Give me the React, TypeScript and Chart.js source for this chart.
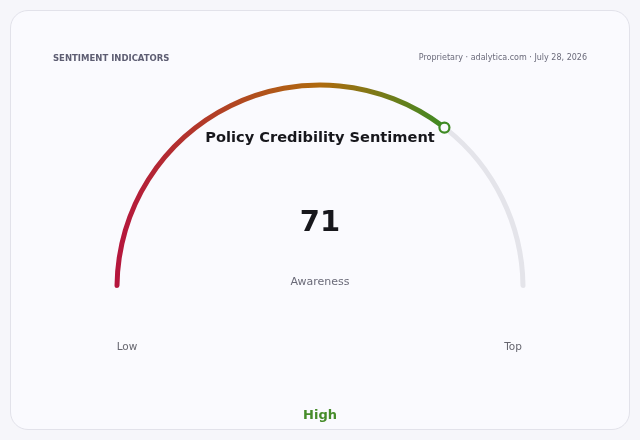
import React, { useEffect, useRef } from "react";
import { Chart, registerables } from "chart.js";

Chart.register(...registerables);

// ---- data ----
const gaugeValue = 71;
const gaugeMax = 100;
const segmentValues = [gaugeValue, gaugeMax - gaugeValue];
const scaleLabels = ["Low", "Top"];
const chartTitle = "Policy Credibility Sentiment";
const metricLabel = "Awareness";
const bandLabel = "High";
const headerLeft = "SENTIMENT INDICATORS";
const headerRight = "Proprietary · adalytica.com · July 28, 2026";

// ---- styles ----
const FONT = '"DejaVu Sans", Verdana, sans-serif';
const CRIMSON = "#b5163d";
const AMBER = "#af6a0e";
const GREEN = "#3e8a23";
const TRACK = "#e4e4ea";
const CARD_BG = "#fafafe";

const markerPlugin = {
  id: "gaugeMarker",
  afterDatasetsDraw(chart: any) {
    const meta = chart.getDatasetMeta(0);
    const arc = meta.data[0];
    if (!arc) return;
    const p = arc.getProps(["x", "y", "endAngle", "outerRadius", "innerRadius"], true);
    const r = (p.outerRadius + p.innerRadius) / 2;
    const px = p.x + r * Math.cos(p.endAngle);
    const py = p.y + r * Math.sin(p.endAngle);
    const ctx = chart.ctx;
    ctx.save();
    ctx.beginPath();
    ctx.arc(px, py, 5, 0, Math.PI * 2);
    ctx.fillStyle = CARD_BG;
    ctx.fill();
    ctx.lineWidth = 2.2;
    ctx.strokeStyle = GREEN;
    ctx.stroke();
    ctx.restore();
  },
};

function GaugeChart() {
  const ref = useRef<HTMLCanvasElement | null>(null);
  useEffect(() => {
    if (!ref.current) return;
    const chart = new Chart(ref.current, {
      type: "doughnut",
      data: {
        labels: ["value", "rest"],
        datasets: [
          {
            data: segmentValues,
            backgroundColor: (c: any) => {
              if (c.dataIndex !== 0) return TRACK;
              const ch = c.chart;
              const ca = ch.chartArea;
              if (!ca) return CRIMSON;
              const ctrl: any = ch.getDatasetMeta(0).controller;
              const outer = ctrl.outerRadius || 0;
              const inner = ctrl.innerRadius || 0;
              const rMid = (outer + inner) / 2;
              const cx = (ca.left + ca.right) / 2;
              const total = segmentValues.reduce((a, b) => a + b, 0);
              const frac = segmentValues[0] / total;
              const ang = Math.PI + Math.PI * frac;
              const x0 = cx - rMid;
              const x1 = cx + rMid * Math.cos(ang);
              if (!(x1 > x0)) return CRIMSON;
              const g = ch.ctx.createLinearGradient(x0, 0, x1, 0);
              g.addColorStop(0, CRIMSON);
              g.addColorStop(0.62, AMBER);
              g.addColorStop(1, GREEN);
              return g;
            },
            borderWidth: 0,
            borderRadius: 3,
          },
        ],
      },
      options: {
        animation: false,
        responsive: false,
        maintainAspectRatio: false,
        rotation: -90,
        circumference: 180,
        cutout: "97.57%",
        layout: { padding: { left: 114.5, right: 114.5, top: 82.5, bottom: 152 } },
        plugins: {
          legend: { display: false },
          tooltip: { enabled: false },
        },
      },
      plugins: [markerPlugin],
    } as any);
    return () => chart.destroy();
  }, []);
  return (
    <canvas
      ref={ref}
      width={640}
      height={440}
      style={{ position: "absolute", left: 0, top: 0, width: 640, height: 440 }}
    />
  );
}

function Label(props: {
  x: number;
  y: number;
  text: string;
  size: number;
  color: string;
  weight?: number;
  align?: "center" | "left" | "right";
  spacing?: number;
}) {
  const { x, y, text, size, color, weight = 400, align = "center", spacing = 0 } = props;
  const tx = align === "center" ? "-50%" : align === "right" ? "-100%" : "0";
  return (
    <div
      style={{
        position: "absolute",
        left: x,
        top: y,
        transform: `translate(${tx}, -50%)`,
        fontFamily: FONT,
        fontSize: size,
        fontWeight: weight,
        color,
        lineHeight: 1,
        whiteSpace: "nowrap",
        letterSpacing: spacing,
      }}
    >
      {text}
    </div>
  );
}

export default function App() {
  return (
    <div
      style={{
        position: "fixed",
        left: 0,
        top: 0,
        width: 640,
        height: 440,
        background: "#f6f6fa",
        overflow: "hidden",
      }}
    >
      <div
        style={{
          position: "absolute",
          left: 10,
          top: 10,
          width: 620,
          height: 420,
          boxSizing: "border-box",
          border: "1px solid #e2e2ea",
          borderRadius: 18,
          background: CARD_BG,
        }}
      />
      <GaugeChart />
      <Label x={53} y={57.5} text={headerLeft} size={8.5} color="#5d5d72" weight={700} align="left" />
      <Label x={587} y={57.5} text={headerRight} size={8} color="#6a6a7a" align="right" />
      <Label x={320} y={137} text={chartTitle} size={14.6} color="#17171c" weight={700} />
      <Label x={320} y={221} text={String(gaugeValue)} size={29} color="#17171c" weight={700} />
      <Label x={320} y={281} text={metricLabel} size={11} color="#6a6a78" />
      <Label x={127} y={345.5} text={scaleLabels[0]} size={10.5} color="#66666f" />
      <Label x={513} y={345.5} text={scaleLabels[1]} size={10.5} color="#66666f" />
      <Label x={320} y={414} text={bandLabel} size={13} color="#468c2a" weight={700} />
    </div>
  );
}
